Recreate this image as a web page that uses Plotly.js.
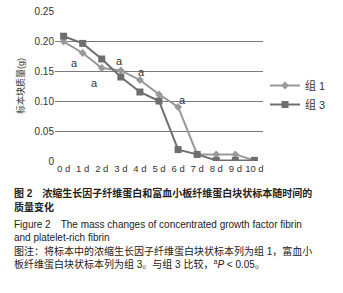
<!DOCTYPE html>
<html><head><meta charset="utf-8">
<script src="https://cdn.plot.ly/plotly-3.0.1.min.js"></script>
<style>html,body{margin:0;padding:0;background:#fff;}#chart{width:343px;height:293px;}</style>
</head><body><div id="chart"></div>
<script>
const days = [0,1,2,3,4,5,6,7,8,9,10];
const dayLabels = ["0 d","1 d","2 d","3 d","4 d","5 d","6 d","7 d","8 d","9 d","10 d"];
const group1 = [0.199,0.180,0.155,0.151,0.135,0.111,0.090,0.011,0.011,0.011,0.001];
const group3 = [0.208,0.196,0.170,0.140,0.115,0.100,0.019,0.011,0.001,0.001,0.001];
const seriesNames = ["组 1","组 3"];
const sigX = [0.55,1.6,2.95,4.1,6.25];
const sigY = [0.163,0.130,0.167,0.148,0.102];
const yTicks = [0,0.05,0.10,0.15,0.20,0.25];
const yTickText = ["0","0.05","0.10","0.15","0.20","0.25"];

const L=55, R=263, T=11, B=161, W=343, H=293;
const px = x => (x-L)/(R-L);
const py = y => (B-y)/(B-T);
const cjk = '"Liberation Sans", Arial, "Noto Sans CJK SC", sans-serif';

const traces = [
  {x:days, y:group1, name:seriesNames[0], mode:'lines+markers',
   line:{color:'#999999', width:2}, marker:{symbol:'diamond', size:6, color:'#999999'}},
  {x:days, y:group3, name:seriesNames[1], mode:'lines+markers',
   line:{color:'#6e6e6e', width:2}, marker:{symbol:'square', size:7, color:'#6e6e6e'}}
];

const ann = sigX.map((x,i)=>({x:x, y:sigY[i], xref:'x', yref:'y', text:'a', showarrow:false,
  font:{size:11, color:'#333333', family:cjk}}));

const captions = [
  {t:'<b>图 2　浓缩生长因子纤维蛋白和富血小板纤维蛋白块状标本随时间的</b>', y:193},
  {t:'<b>质量变化</b>', y:207},
  {t:'Figure 2　The mass changes of concentrated growth factor fibrin', y:224},
  {t:'and platelet-rich fibrin', y:237},
  {t:'图注：将标本中的浓缩生长因子纤维蛋白块状标本列为组 1，富血小', y:251},
  {t:'板纤维蛋白块状标本列为组 3。与组 3 比较，<sup>a</sup><i>P</i> < 0.05。', y:264}
];
captions.forEach(c=>ann.push({xref:'paper', yref:'paper', x:px(12), y:py(c.y), xanchor:'left', yanchor:'middle',
  text:c.t, showarrow:false, font:{size:10, color:'#222222', family:cjk}}));

const layout = {
  width:W, height:H, margin:{l:L, r:W-R, t:T, b:H-B},
  paper_bgcolor:'#fff', plot_bgcolor:'#fff',
  font:{family:cjk, size:10, color:'#333'},
  xaxis:{range:[-0.45,10.45], tickvals:days, ticktext:dayLabels, showgrid:false, zeroline:false,
    showline:false, ticks:'', tickangle:0, tickfont:{size:9.5}},
  yaxis:{range:[0,0.25], tickvals:yTicks, ticktext:yTickText, showgrid:true, gridcolor:'#7a7a7a', gridwidth:1,
    zeroline:false, showline:false, ticks:'', tickfont:{size:10},
    title:{text:'标本块质量(g)', font:{size:9, family:cjk}, standoff:8}},
  legend:{x:px(265), y:py(71), xanchor:'left', yanchor:'top', font:{size:11, family:cjk},
    bgcolor:'rgba(0,0,0,0)', tracegroupgap:2},
  annotations:ann,
  showlegend:true
};
Plotly.newPlot('chart', traces, layout, {staticPlot:true, displayModeBar:false});
</script></body></html>
